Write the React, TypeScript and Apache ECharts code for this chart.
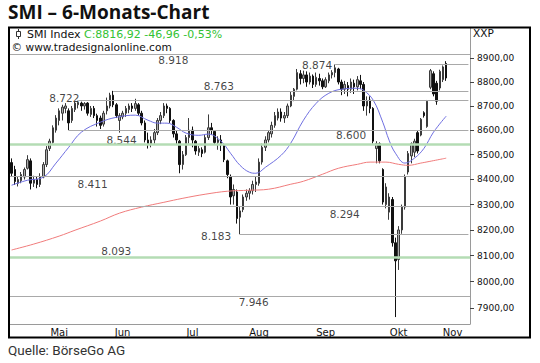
import React, { useEffect, useRef } from 'react';
import * as echarts from 'echarts';

// ---- trading days (SIX, 2014) ----
const aprDays = [23, 24, 25, 28, 29, 30];
const mayDays = [2, 5, 6, 7, 8, 9, 12, 13, 14, 15, 16, 19, 20, 21, 22, 23, 26, 27, 28, 30];
const junDays = [2, 3, 4, 5, 6, 10, 11, 12, 13, 16, 17, 18, 19, 20, 23, 24, 25, 26, 27, 30];
const julDays = [1, 2, 3, 4, 7, 8, 9, 10, 11, 14, 15, 16, 17, 18, 21, 22, 23, 24, 25, 28, 29, 30, 31];
const augDays = [4, 5, 6, 7, 8, 11, 12, 13, 14, 15, 18, 19, 20, 21, 22, 25, 26, 27, 28, 29];
const sepDays = [1, 2, 3, 4, 5, 8, 9, 10, 11, 12, 15, 16, 17, 18, 19, 22, 23, 24, 25, 26, 29, 30];
const octDays = [1, 2, 3, 6, 7, 8, 9, 10, 13, 14, 15, 16, 17, 20, 21, 22, 23, 24, 27, 28, 29, 30, 31];
const novDays = [3, 4, 5, 6, 7, 10, 11, 12, 13, 14, 17];
const monthNames = ['Apr', 'Mai', 'Jun', 'Jul', 'Aug', 'Sep', 'Okt', 'Nov'];

// ---- candles [open, close, low, high] ----
const candlesApr = [
  [8468, 8425, 8410, 8485], [8440, 8392, 8378, 8455], [8385, 8400, 8372, 8410],
  [8395, 8420, 8385, 8430], [8410, 8440, 8400, 8448], [8445, 8480, 8440, 8498],
];
const candlesMay = [
  [8475, 8385, 8360, 8485], [8385, 8400, 8370, 8415], [8400, 8380, 8365, 8410],
  [8380, 8410, 8370, 8425], [8410, 8460, 8405, 8470], [8460, 8520, 8450, 8535],
  [8525, 8555, 8515, 8565], [8550, 8610, 8545, 8620], [8600, 8650, 8590, 8662],
  [8640, 8680, 8620, 8690], [8670, 8695, 8640, 8705], [8690, 8700, 8670, 8712],
  [8680, 8630, 8600, 8690], [8640, 8690, 8630, 8700], [8685, 8712, 8675, 8720],
  [8705, 8715, 8690, 8722], [8712, 8700, 8680, 8718], [8700, 8710, 8685, 8716],
  [8712, 8670, 8660, 8716], [8665, 8690, 8655, 8700],
];
const candlesJun = [
  [8690, 8660, 8650, 8700], [8660, 8640, 8615, 8668], [8650, 8620, 8605, 8660],
  [8625, 8670, 8615, 8680], [8680, 8700, 8665, 8735], [8700, 8745, 8690, 8755],
  [8745, 8705, 8695, 8763], [8705, 8660, 8650, 8712], [8640, 8660, 8590, 8670],
  [8655, 8670, 8645, 8680], [8670, 8690, 8655, 8700], [8685, 8700, 8670, 8710],
  [8700, 8690, 8675, 8712], [8690, 8710, 8680, 8730], [8705, 8670, 8660, 8712],
  [8670, 8630, 8620, 8680], [8630, 8560, 8550, 8640], [8560, 8545, 8525, 8590],
  [8545, 8560, 8530, 8575], [8560, 8590, 8545, 8605],
];
const candlesJul = [
  [8590, 8640, 8580, 8650], [8640, 8660, 8625, 8675], [8660, 8700, 8650, 8712],
  [8700, 8690, 8670, 8710], [8690, 8640, 8630, 8695], [8640, 8585, 8570, 8645],
  [8585, 8560, 8540, 8600], [8555, 8460, 8425, 8560], [8460, 8500, 8440, 8515],
  [8500, 8570, 8495, 8580], [8570, 8600, 8545, 8650], [8600, 8560, 8530, 8615],
  [8555, 8515, 8500, 8560], [8510, 8525, 8495, 8535], [8520, 8505, 8490, 8530],
  [8510, 8570, 8505, 8580], [8570, 8610, 8560, 8665], [8610, 8600, 8580, 8630],
  [8595, 8550, 8540, 8600], [8550, 8560, 8520, 8575], [8560, 8540, 8515, 8580],
  [8540, 8480, 8470, 8545], [8475, 8420, 8405, 8480],
];
const candlesAug = [
  [8410, 8330, 8300, 8420], [8335, 8360, 8300, 8380], [8350, 8245, 8225, 8360],
  [8250, 8275, 8183, 8290], [8280, 8330, 8270, 8340], [8330, 8345, 8315, 8360],
  [8345, 8355, 8320, 8365], [8355, 8380, 8340, 8395], [8380, 8390, 8350, 8410],
  [8385, 8470, 8375, 8485], [8470, 8530, 8460, 8545], [8530, 8560, 8515, 8575],
  [8560, 8590, 8550, 8600], [8585, 8620, 8570, 8635], [8620, 8660, 8610, 8675],
  [8650, 8675, 8640, 8690], [8675, 8650, 8635, 8690], [8650, 8660, 8630, 8675],
  [8660, 8700, 8650, 8710], [8700, 8745, 8695, 8760],
];
const candlesSep = [
  [8740, 8770, 8720, 8775], [8770, 8840, 8765, 8855], [8835, 8815, 8790, 8850],
  [8815, 8830, 8795, 8848], [8830, 8800, 8780, 8845], [8800, 8825, 8790, 8840],
  [8825, 8790, 8775, 8832], [8790, 8820, 8780, 8840], [8815, 8805, 8785, 8835],
  [8805, 8780, 8770, 8815], [8780, 8810, 8775, 8820], [8805, 8830, 8795, 8840],
  [8830, 8840, 8815, 8850], [8840, 8860, 8820, 8874], [8855, 8800, 8790, 8860],
  [8800, 8770, 8745, 8810], [8770, 8790, 8750, 8805], [8785, 8770, 8740, 8800],
  [8770, 8800, 8755, 8815], [8795, 8780, 8750, 8810], [8780, 8810, 8765, 8825],
  [8805, 8790, 8770, 8830],
];
const candlesOct = [
  [8790, 8700, 8680, 8800], [8700, 8720, 8660, 8740], [8725, 8690, 8670, 8740],
  [8690, 8555, 8545, 8695], [8525, 8545, 8465, 8555], [8545, 8475, 8465, 8550],
  [8440, 8310, 8300, 8445], [8300, 8370, 8285, 8385], [8270, 8330, 8240, 8345],
  [8320, 8150, 8135, 8330], [8150, 8080, 7866, 8170], [8085, 8200, 8045, 8215],
  [8200, 8290, 8185, 8300], [8290, 8410, 8280, 8420], [8430, 8505, 8420, 8515],
  [8495, 8545, 8465, 8550], [8510, 8555, 8490, 8565], [8590, 8515, 8505, 8600],
  [8580, 8645, 8575, 8650], [8672, 8660, 8652, 8678], [8615, 8720, 8610, 8725],
  [8778, 8848, 8770, 8855], [8835, 8750, 8740, 8845],
];
const candlesNov = [
  [8795, 8720, 8705, 8805], [8775, 8845, 8765, 8852], [8810, 8863.88, 8800, 8870],
  [8878, 8816.92, 8805, 8888],
];

// ---- moving averages: [trading-day index, value] ----
const ma20Points = [
  [0, 8377], [5, 8397], [10, 8409], [14, 8466], [18, 8530], [22, 8592], [28, 8633],
  [33, 8653], [39, 8662], [43, 8641], [46, 8629], [49, 8629], [52, 8612], [55, 8588],
  [59, 8579], [62, 8584], [66, 8555], [69, 8506], [72, 8457], [75, 8429], [77, 8425],
  [80, 8449], [85, 8498], [88, 8547], [92, 8641], [96, 8711], [100, 8753], [104, 8770],
  [109, 8774], [111, 8765], [114, 8724], [117, 8633], [119, 8559], [121, 8506],
  [124, 8466], [127, 8486], [130, 8526], [133, 8592], [137, 8658],
];
const ma200Points = [
  [0, 8122], [7, 8145], [15, 8176], [20, 8199], [28, 8235], [34, 8266], [41, 8290],
  [48, 8309], [54, 8325], [61, 8341], [68, 8353], [75, 8357], [81, 8361], [88, 8381],
  [92, 8393], [98, 8421], [103, 8445], [109, 8461], [113, 8470], [118, 8470],
  [122, 8461], [125, 8457], [129, 8466], [137, 8486],
];

// ---- support / resistance levels ----
const levelValues = [8918, 8874, 8763, 8722, 8600, 8544, 8411, 8294, 8183, 8093, 7946];
const levelStartIdx = [0, 102, 32, 21, 18, 0, 0, 0, 72, 0, 0];
const levelIsGreen = [false, false, false, false, false, true, false, false, false, true, false];

const yTicks = [7900, 8000, 8100, 8200, 8300, 8400, 8500, 8600, 8700, 8800, 8900];

// label layout: [category index, dx, dy] (presentation only)
const levelLabelLayout = [
  [51, 0, 6], [96, 1, 0], [65, 1, -5], [16, 2, -3], [107, 0, 5], [35, -1, -3.5],
  [26, -1.5, 7], [105, 0, 7.5], [64, 1.5, 2], [33, 0, -6], [76, 1, 6],
];

const monthDays = [aprDays, mayDays, junDays, julDays, augDays, sepDays, octDays, novDays];
const categories: string[] = [];
const catMonth: number[] = [];
monthDays.forEach((days, m) => {
  days.forEach((d) => {
    categories.push(`2014-${String(m + 4).padStart(2, '0')}-${String(d).padStart(2, '0')}`);
    catMonth.push(m);
  });
});
const tickSet = new Set<number>();
const labelSet = new Set<number>();
{
  let start = 0;
  monthDays.forEach((days, m) => {
    const end = start + days.length - 1;
    if (m > 0) {
      tickSet.add(start);
      labelSet.add(Math.floor((start + end) / 2));
    }
    start = end + 1;
  });
}
const monthOfCat: Record<string, string> = {};
categories.forEach((c, i) => (monthOfCat[c] = monthNames[catMonth[i]]));

const candles = [
  ...candlesApr, ...candlesMay, ...candlesJun, ...candlesJul,
  ...candlesAug, ...candlesSep, ...candlesOct, ...candlesNov,
];

const fmt2 = (v: number) => v.toFixed(2).replace('.', ',');
const fmtLevel = (v: number) =>
  `${Math.floor(v / 1000)}.${String(Math.round(v % 1000)).padStart(3, '0')}`;

export default function App() {
  const ref = useRef<HTMLDivElement>(null);
  useEffect(() => {
    if (!ref.current) return;
    const chart = echarts.init(ref.current, null, { renderer: 'svg' });
    const lastClose = candles[candles.length - 1][1];
    const prevClose = candles[candles.length - 2][1];
    const change = lastClose - prevClose;
    const pct = (change / prevClose) * 100;
    const headerValue = `C:${fmt2(lastClose)} ${fmt2(change)} ${fmt2(pct)}%`;
    const lastCat = categories[categories.length - 1];

    const grey = { color: '#a9a9a9', width: 1, type: 'solid' };
    const green = { color: '#b4dcb4', width: 2.5, type: 'solid' };

    const markData = levelValues.map((v, k) => {
      const ls = levelIsGreen[k] ? green : grey;
      if (levelStartIdx[k] === 0) return { yAxis: v, lineStyle: ls };
      return [
        { coord: [categories[levelStartIdx[k]], v], lineStyle: ls },
        { coord: [lastCat, v] },
      ];
    });

    const labelData = levelValues.map((v, k) => ({
      value: [categories[levelLabelLayout[k][0]], v],
      label: { offset: [levelLabelLayout[k][1], levelLabelLayout[k][2]] },
    }));

    const font = 'DejaVu Sans';
    chart.setOption({
      animation: false,
      grid: { left: 10, right: 70, top: 28, bottom: 39, containLabel: false, outerBoundsMode: 'none' },
      xAxis: {
        type: 'category',
        data: categories,
        boundaryGap: true,
        axisLine: { onZero: false, lineStyle: { color: '#9a9a9a', width: 1 } },
        axisTick: { interval: (i: number) => tickSet.has(i), length: 2, lineStyle: { color: '#777' } },
        axisLabel: {
          interval: (i: number) => labelSet.has(i),
          formatter: (v: string) => monthOfCat[v],
          fontSize: 10,
          fontFamily: font,
          color: '#111',
          margin: 3,
        },
        splitLine: { show: false },
      },
      yAxis: {
        type: 'log',
        logBase: 10,
        min: 7840,
        max: 9030,
        position: 'right',
        axisLine: { show: true, lineStyle: { color: '#9a9a9a', width: 1 } },
        axisTick: { show: true, customValues: yTicks, length: 4, lineStyle: { color: '#444' } },
        axisLabel: {
          customValues: yTicks,
          formatter: (v: number) => fmt2(v),
          fontSize: 9,
          fontFamily: font,
          color: '#111',
          margin: 7,
        },
        splitLine: { show: false },
        minorTick: { show: false },
      },
      series: [
        {
          type: 'scatter',
          name: 'levels',
          z: 1,
          symbolSize: 1,
          itemStyle: { color: 'rgba(0,0,0,0)' },
          data: labelData,
          label: {
            show: true,
            position: 'inside',
            formatter: (p: any) => fmtLevel(p.value[1]),
            fontSize: 10.5,
            fontFamily: font,
            color: '#111',
          },
          markLine: {
            silent: true,
            symbol: ['none', 'none'],
            label: { show: false },
            lineStyle: grey,
            data: markData,
          },
        },
        {
          type: 'candlestick',
          name: 'SMI',
          z: 3,
          barWidth: 2,
          data: candles,
          itemStyle: {
            color: '#ababab',
            color0: '#111111',
            borderColor: '#3a3a3a',
            borderColor0: '#111111',
            borderWidth: 1,
          },
        },
        {
          type: 'line',
          name: 'MA200',
          z: 4,
          smooth: 0.4,
          showSymbol: false,
          symbol: 'none',
          lineStyle: { color: '#f07c7c', width: 1 },
          data: ma200Points.map(([i, v]) => [categories[i], v]),
        },
        {
          type: 'line',
          name: 'MA20',
          z: 4,
          smooth: 0.4,
          showSymbol: false,
          symbol: 'none',
          lineStyle: { color: '#6f6fe0', width: 1 },
          data: ma20Points.map(([i, v]) => [categories[i], v]),
        },
      ],
      graphic: [
        {
          type: 'text', x: 8, y: 12, silent: true,
          style: { text: 'SMI – 6-Monats-Chart', fontSize: 19, fontWeight: 'bold', fontFamily: 'Open Sans', fill: '#111', verticalAlign: 'middle' },
        },
        {
          type: 'rect', silent: true, z: 10,
          shape: { x: 9, y: 27.5, width: 521, height: 310 },
          style: { fill: 'none', stroke: '#000', lineWidth: 2 },
        },
        {
          type: 'line', silent: true, z: 10,
          shape: { x1: 18.5, y1: 29, x2: 18.5, y2: 39 },
          style: { stroke: '#333', lineWidth: 1 },
        },
        {
          type: 'rect', silent: true, z: 11,
          shape: { x: 16.5, y: 31.5, width: 4, height: 5 },
          style: { fill: '#fff', stroke: '#333', lineWidth: 1 },
        },
        {
          type: 'text', x: 27, y: 34.5, silent: true, z: 10,
          style: {
            text: `{a|SMI Index }{b|${headerValue}}`,
            verticalAlign: 'middle',
            rich: {
              a: { fill: '#111', color: '#111', fontSize: 11, fontFamily: font },
              b: { fill: '#33c233', color: '#33c233', fontSize: 11, fontFamily: font },
            },
          },
        },
        {
          type: 'text', x: 11.5, y: 47, silent: true, z: 10,
          style: { text: '© www.tradesignalonline.com', fontSize: 10.6, fontFamily: font, fill: '#111', verticalAlign: 'middle' },
        },
        {
          type: 'text', x: 473, y: 33, silent: true, z: 10,
          style: { text: 'XXP', fontSize: 10.5, fontFamily: font, fill: '#111', verticalAlign: 'middle' },
        },
        {
          type: 'text', x: 8, y: 350, silent: true,
          style: { text: 'Quelle: BörseGo AG', fontSize: 13.5, fontFamily: 'Roboto', fill: '#333', verticalAlign: 'middle' },
        },
      ],
    });
    return () => chart.dispose();
  }, []);
  return <div ref={ref} style={{ position: 'absolute', left: 0, top: 0, width: 540, height: 363 }} />;
}
